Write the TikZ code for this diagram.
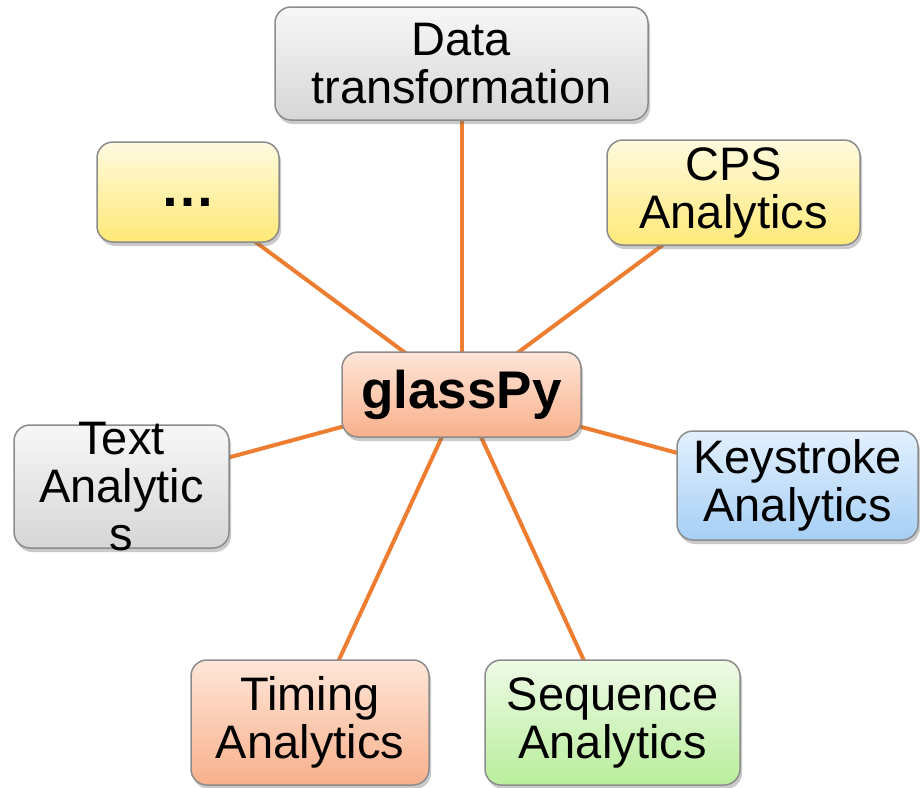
\documentclass[tikz,border=0pt]{standalone}
\usepackage{fontspec}
\setmainfont{Liberation Sans}
\usetikzlibrary{shadows,backgrounds}
\definecolor{lineor}{HTML}{ED7D31}
\definecolor{boxline}{HTML}{8C8C8C}
\definecolor{grayT}{HTML}{F7F7F7}
\definecolor{grayB}{HTML}{D6D6D6}
\definecolor{yelT}{HTML}{FFFADF}
\definecolor{yelB}{HTML}{FFE978}
\definecolor{salT}{HTML}{FFE6D8}
\definecolor{salB}{HTML}{F8B08C}
\definecolor{bluT}{HTML}{E2F0FF}
\definecolor{bluB}{HTML}{A6CFF5}
\definecolor{grnT}{HTML}{EEFAE6}
\definecolor{grnB}{HTML}{B9EE9C}
\begin{document}
\begin{tikzpicture}[x=1pt,y=-1pt,
  box/.style={draw=boxline, line width=1.5pt, rounded corners=16pt, inner sep=0pt,
    align=center, font=\fontsize{47}{48}\selectfont,
    drop shadow={shadow xshift=2pt,shadow yshift=-4pt,opacity=0.35,fill=black!60}},
  graybox/.style={box, top color=grayT, bottom color=grayB},
  yelbox/.style={box, top color=yelT, bottom color=yelB},
  salbox/.style={box, top color=salT, bottom color=salB},
  blubox/.style={box, top color=bluT, bottom color=bluB},
  grnbox/.style={box, top color=grnT, bottom color=grnB},
  conn/.style={draw=lineor, line width=4pt}]
\useasboundingbox (0,0) rectangle (920,787);

\node[graybox, minimum width=373pt, minimum height=113pt] (data) at (461.5,63.5) {Data\\transformation};
\node[yelbox, minimum width=182pt, minimum height=100pt, text height=40pt, text depth=12pt, font=\fontsize{55}{55}\bfseries\selectfont] (dots) at (188,192) {…};
\node[yelbox, minimum width=253pt, minimum height=105pt] (cps) at (733.5,192.5) {CPS\\Analytics};
\node[salbox, minimum width=239pt, minimum height=85pt, font=\fontsize{53}{53}\bfseries\selectfont] (glass) at (461.5,394.5) {glassPy};
\node[graybox, minimum width=215pt, minimum height=123pt] (text) at (121.5,486.5) {};
\node[align=center, inner sep=0pt, font=\fontsize{47}{48}\selectfont] (textlbl) at (text.center) {Text\\Analytic\\s};
\node[blubox, minimum width=241pt, minimum height=109pt] (key) at (797.5,485.5) {Keystroke\\Analytics};
\node[salbox, minimum width=238pt, minimum height=125pt] (timing) at (310,722.5) {Timing\\Analytics};
\node[grnbox, minimum width=255pt, minimum height=125pt] (seq) at (612.5,722.5) {Sequence\\Analytics};

\begin{scope}[on background layer]
\draw[conn] (glass.center) -- (data.center);
\draw[conn] (glass.center) -- (dots.center);
\draw[conn] (glass.center) -- (cps.center);
\draw[conn] (glass.center) -- (text.center);
\draw[conn] (glass.center) -- (key.center);
\draw[conn] (glass.center) -- (timing.center);
\draw[conn] (glass.center) -- (seq.center);
\end{scope}
\end{tikzpicture}
\end{document}
